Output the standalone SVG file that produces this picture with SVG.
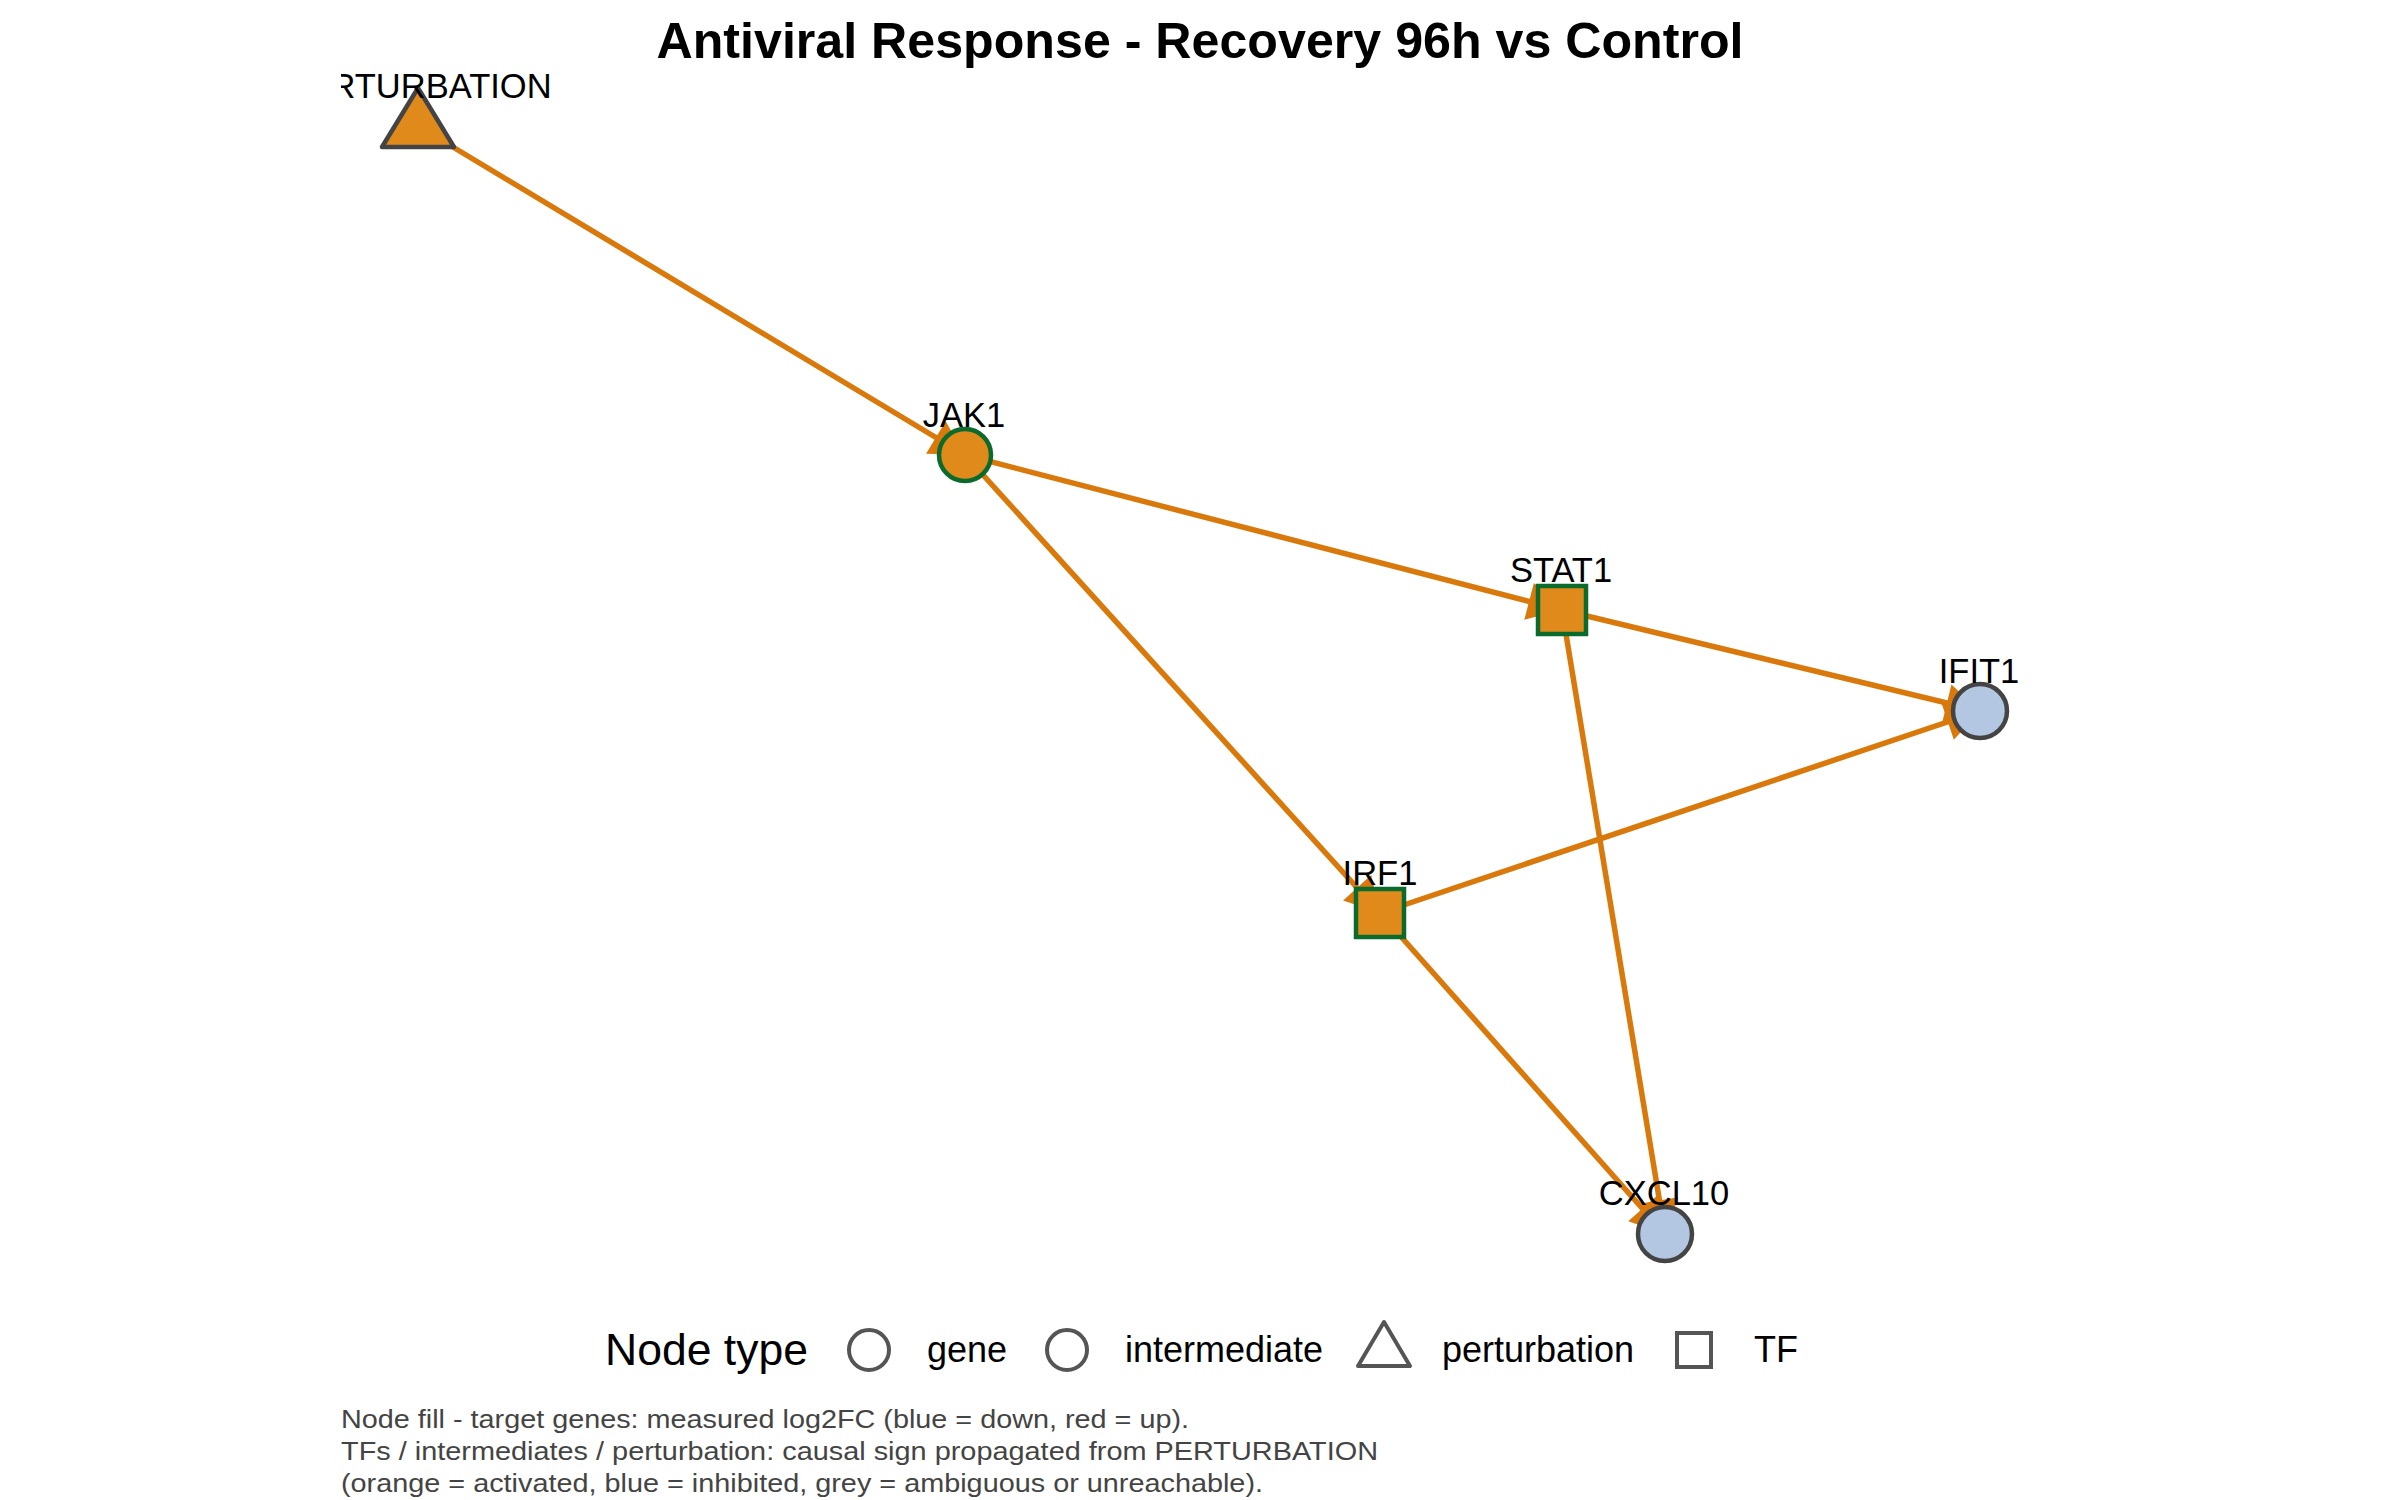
<svg xmlns="http://www.w3.org/2000/svg" width="2400" height="1500" viewBox="0 0 2400 1500">
<style>
.edge{stroke:#D9790B;stroke-width:5.5;fill:none;marker-end:url(#arr)}
.act{fill:#E08A1C;stroke:#0B6B2C;stroke-width:4.5}
.pert{fill:#E08A1C;stroke:#444444;stroke-width:4.5;stroke-linejoin:round}
.tgt{fill:#B3C7E2;stroke:#444444;stroke-width:4.5}
.lbl{font-family:"Liberation Sans",Arial,sans-serif;font-size:34.5px;fill:#000;text-anchor:middle}
.leg{font-family:"Liberation Sans",Arial,sans-serif;font-size:36px;fill:#000}
.legsym{fill:none;stroke:#555555;stroke-width:4}
.cap{font-family:"Liberation Sans",Arial,sans-serif;font-size:26px;fill:#444444}
</style>
<defs>
<marker id="arr" markerUnits="userSpaceOnUse" markerWidth="40" markerHeight="40" viewBox="0 -20 36 40" refX="34" refY="0" orient="auto">
<path d="M0,-19 L34,0 L0,19 z" fill="#D9790B"/>
</marker>
<clipPath id="panel"><rect x="341" y="40" width="1718" height="1260"/></clipPath>
</defs>
<rect width="2400" height="1500" fill="#ffffff"/>
<text x="1200" y="58" font-family="'Liberation Sans',Arial,sans-serif" font-size="50" font-weight="bold" text-anchor="middle" textLength="1087" lengthAdjust="spacingAndGlyphs">Antiviral Response - Recovery 96h vs Control</text>
<g id="connectors">
<line class="edge" x1="418" y1="126" x2="965" y2="455"/>
<line class="edge" x1="965" y1="455" x2="1562" y2="610"/>
<line class="edge" x1="965" y1="455" x2="1380" y2="913"/>
<line class="edge" x1="1562" y1="610" x2="1980" y2="711"/>
<line class="edge" x1="1562" y1="610" x2="1665" y2="1234"/>
<line class="edge" x1="1380" y1="913" x2="1980" y2="711"/>
<line class="edge" x1="1380" y1="913" x2="1665" y2="1234"/>
</g>
<g clip-path="url(#panel)">
<g id="PERTURBATION">
<path class="pert" d="M418,88 L454,147 L382,147 Z"/>
<text class="lbl" x="418" y="98">PERTURBATION</text>
</g>
<g id="JAK1">
<circle class="act" cx="965" cy="455" r="26"/>
<text class="lbl" x="964" y="427">JAK1</text>
</g>
<g id="STAT1">
<rect class="act" x="1538" y="586" width="48" height="48"/>
<text class="lbl" x="1561" y="582">STAT1</text>
</g>
<g id="IFIT1">
<circle class="tgt" cx="1980" cy="711" r="27"/>
<text class="lbl" x="1979" y="683">IFIT1</text>
</g>
<g id="IRF1">
<rect class="act" x="1356" y="889" width="48" height="48"/>
<text class="lbl" x="1380" y="885">IRF1</text>
</g>
<g id="CXCL10">
<circle class="tgt" cx="1665" cy="1234" r="27"/>
<text class="lbl" x="1664" y="1205">CXCL10</text>
</g>
</g>
<g id="legend">
<text x="605" y="1365" font-family="'Liberation Sans',Arial,sans-serif" font-size="44" textLength="203" lengthAdjust="spacingAndGlyphs">Node type</text>
<circle class="legsym" cx="869" cy="1350" r="20"/>
<text class="leg" x="927" y="1362">gene</text>
<circle class="legsym" cx="1067" cy="1350" r="20"/>
<text class="leg" x="1125" y="1362">intermediate</text>
<path class="legsym" d="M1384,1322 L1410,1366 L1358,1366 Z" stroke-linejoin="round"/>
<text class="leg" x="1442" y="1362">perturbation</text>
<rect class="legsym" x="1677" y="1333" width="34" height="34"/>
<text class="leg" x="1754" y="1362">TF</text>
</g>
<g id="caption">
<text class="cap" x="341" y="1428" textLength="848" lengthAdjust="spacingAndGlyphs">Node fill - target genes: measured log2FC (blue = down, red = up).</text>
<text class="cap" x="341" y="1460" textLength="1037" lengthAdjust="spacingAndGlyphs">TFs / intermediates / perturbation: causal sign propagated from PERTURBATION</text>
<text class="cap" x="341" y="1492" textLength="922" lengthAdjust="spacingAndGlyphs">(orange = activated, blue = inhibited, grey = ambiguous or unreachable).</text>
</g>
</svg>
